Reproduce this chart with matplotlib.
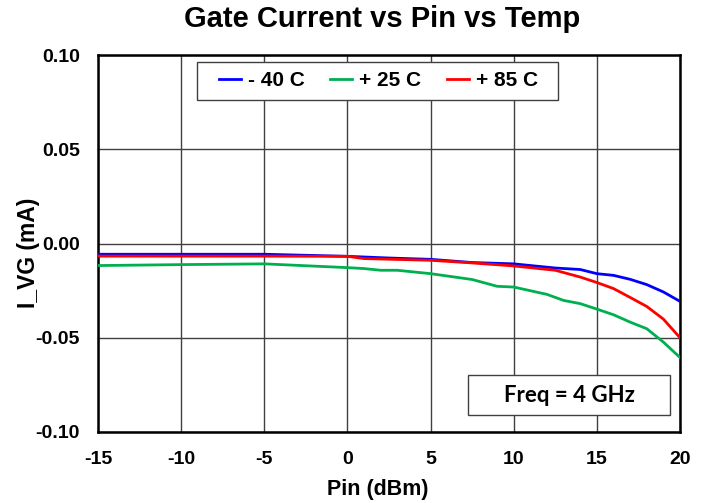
import matplotlib
matplotlib.use("Agg")
import matplotlib.pyplot as plt
from matplotlib.patches import Rectangle

plt.rcParams['font.family'] = ['Liberation Sans', 'DejaVu Sans']

x_m40 = [-15, -10, -5, 0, 2.5, 5, 7.5, 10, 12.5, 14, 15, 16, 17, 18, 19, 20]
y_m40 = [-0.0057, -0.0057, -0.0057, -0.0068, -0.0077, -0.0084, -0.0101, -0.0108, -0.0130, -0.0138,
         -0.0160, -0.0169, -0.0190, -0.0218, -0.0257, -0.0307]

x_p25 = [-15, -10, -5, 0, 1, 2, 3, 5, 7.5, 9, 10, 12, 13, 14, 15, 16, 17, 18, 19, 20]
y_p25 = [-0.0117, -0.0112, -0.0108, -0.0128, -0.0133, -0.0142, -0.0142, -0.0160, -0.0191, -0.0227,
         -0.0231, -0.0270, -0.0302, -0.0319, -0.0348, -0.0378, -0.0417, -0.0452, -0.0523, -0.0605]

x_p85 = [-15, -10, -5, 0, 1, 5, 7.5, 10, 12.5, 14, 15, 16, 17, 18, 19, 20]
y_p85 = [-0.0067, -0.0067, -0.0067, -0.0068, -0.0080, -0.0089, -0.0103, -0.0119, -0.0142, -0.0178,
         -0.0207, -0.0239, -0.0286, -0.0334, -0.0401, -0.0500]

labels = ['- 40 C', '+ 25 C', '+ 85 C']
colors = ['#0000FF', '#00B050', '#FF0000']

xticks = [-15, -10, -5, 0, 5, 10, 15, 20]
yticks = [-0.10, -0.05, 0.00, 0.05, 0.10]

W, H = 709, 503
L, R, T, B = 98, 680, 55, 432
fig = plt.figure(figsize=(W/100, H/100), dpi=100)
ax = fig.add_axes([L/W, 1-B/H, (R-L)/W, (B-T)/H])

def ax_x(px):
    return (px - L) / (R - L)

def ax_y(py):
    return (B - py) / (B - T)

handles = []
for xs, ys, lab, c in zip([x_m40, x_p25, x_p85], [y_m40, y_p25, y_p85], labels, colors):
    h, = ax.plot(xs, ys, color=c, lw=2, label=lab, zorder=3)
    handles.append(h)

ax.set_xlim(-15, 20)
ax.set_ylim(-0.10, 0.10)
ax.set_xticks(xticks)
ax.set_yticks(yticks)
ax.set_xticklabels([str(t) for t in xticks], fontsize=14, fontweight='bold')
ax.set_yticklabels([f"{t:.2f}" for t in yticks], fontsize=14, fontweight='bold')
ax.tick_params(axis='x', length=0, pad=14)
ax.tick_params(axis='y', length=0, pad=13)
ax.grid(True, color='#404040', lw=1)
for s in ax.spines.values():
    s.set_color('black')
    s.set_linewidth(1.8)

ax.set_xlabel('Pin (dBm)', fontsize=15.5, fontweight='bold')
ax.xaxis.label.set_va('baseline')
ax.xaxis.set_label_coords(ax_x(377.5), ax_y(495))
ax.set_ylabel('I_VG (mA)', fontsize=16.5, fontweight='bold')
ax.yaxis.set_label_coords(ax_x(40), ax_y(252.5))

fig.text(382/W, 1-27/H, 'Gate Current vs Pin vs Temp', ha='center', va='baseline',
         fontsize=21, fontweight='bold')

# legend box
ax.add_patch(Rectangle((ax_x(197), ax_y(100)), ax_x(558)-ax_x(197), ax_y(62)-ax_y(100),
                       transform=ax.transAxes, fc='white', ec='#404040', lw=1, zorder=4))
leg = ax.legend(handles=handles, loc='center', bbox_to_anchor=(ax_x(378.5), ax_y(81)), ncol=3,
                frameon=False, prop={'weight': 'bold', 'size': 15}, handlelength=1.06,
                columnspacing=1.2, borderpad=0.2, handletextpad=0.34)
leg.set_zorder(5)

# frequency annotation box
ax.add_patch(Rectangle((ax_x(468), ax_y(415)), ax_x(670)-ax_x(468), ax_y(375)-ax_y(415),
                       transform=ax.transAxes, fc='white', ec='#404040', lw=1, zorder=4))
ax.text(ax_x(569), ax_y(395), 'Freq = 4 GHz', transform=ax.transAxes,
        ha='center', va='center', fontsize=16, fontweight='bold', family=['Lato', 'DejaVu Sans'],
        zorder=5)

fig.savefig('out.png', dpi=100)
